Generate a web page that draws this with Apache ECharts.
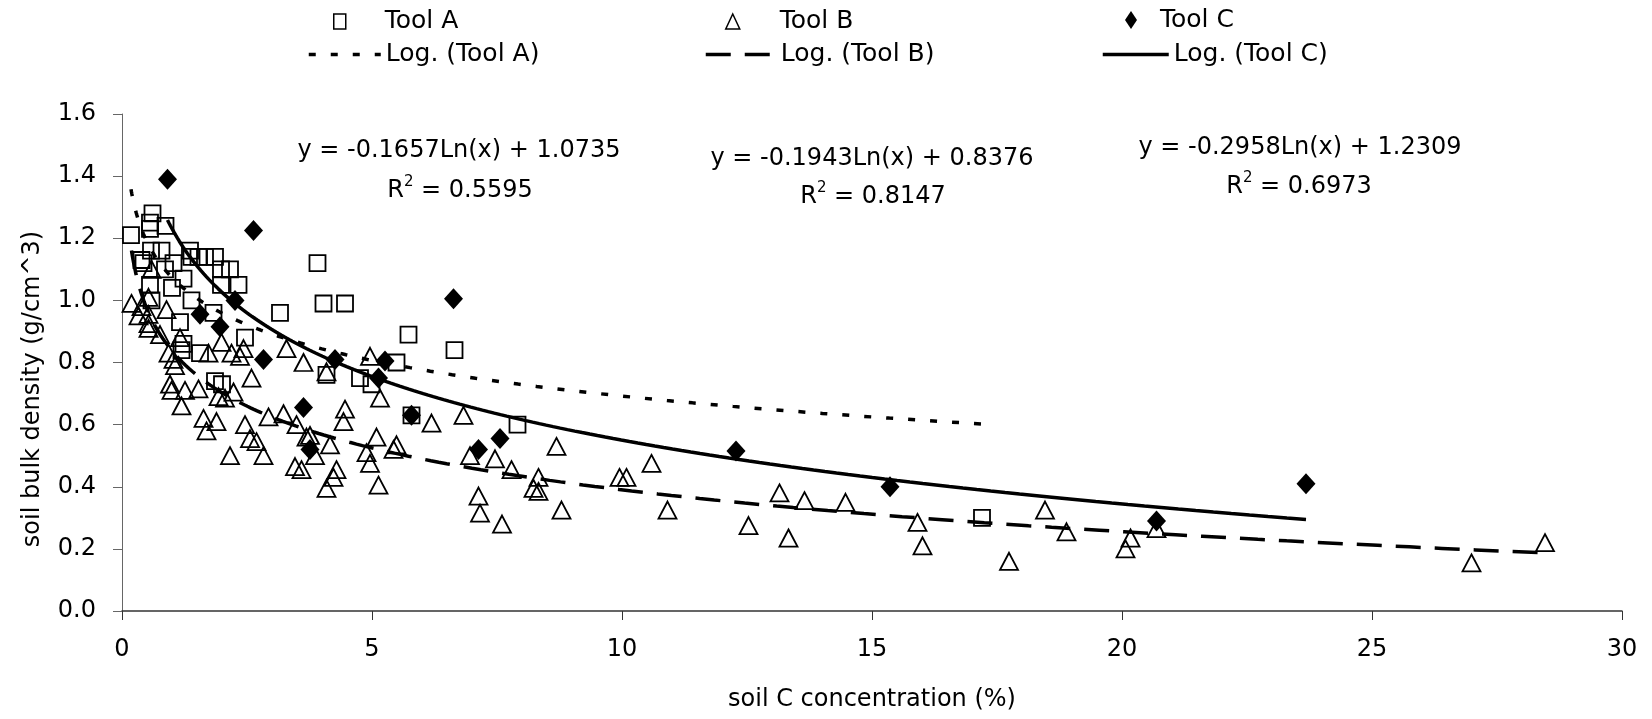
<!DOCTYPE html>
<html><head><meta charset="utf-8">
<script src="https://cdn.jsdelivr.net/npm/echarts@6/dist/echarts.min.js"></script>
<style>html,body{margin:0;padding:0;background:#fff}#c{width:1652px;height:719px}</style>
</head><body><div id="c"></div>
<script>
// ---------- data ----------
const seriesNames = ['Tool A', 'Tool B', 'Tool C'];
const trendNames = ['Log. (Tool A)', 'Log. (Tool B)', 'Log. (Tool C)'];

// Tool A: [soil C %, bulk density]
const toolA = [[0.18,1.21],[0.61,1.28],[0.56,1.25],[0.56,1.23],[0.87,1.24],[0.39,1.13],[0.58,1.16],[0.79,1.16],[0.43,1.12],[0.86,1.10],[1.03,1.12],[1.36,1.16],[1.39,1.14],[1.53,1.14],[1.66,1.14],[1.86,1.14],[1.98,1.10],[2.16,1.10],[0.56,1.05],[1.00,1.04],[1.23,1.07],[1.98,1.05],[2.33,1.05],[0.59,1.00],[1.39,1.00],[1.83,0.96],[3.16,0.96],[1.16,0.93],[1.19,0.84],[1.23,0.86],[1.56,0.83],[2.46,0.88],[1.86,0.74],[2.00,0.73],[3.91,1.12],[4.03,0.99],[4.46,0.99],[5.73,0.89],[6.65,0.84],[5.49,0.80],[4.09,0.76],[4.76,0.75],[4.99,0.73],[5.79,0.63],[7.91,0.60],[17.2,0.30]];

// Tool B
const toolB = [[0.19,0.99],[0.59,1.10],[0.53,1.01],[0.39,0.98],[0.89,0.97],[0.53,0.955],[0.33,0.95],[0.53,0.925],[0.53,0.91],[0.76,0.89],[1.16,0.88],[0.93,0.83],[1.03,0.81],[1.06,0.79],[1.73,0.83],[2.19,0.83],[2.43,0.845],[2.36,0.82],[1.99,0.865],[3.29,0.845],[3.63,0.80],[2.59,0.75],[0.96,0.73],[0.99,0.71],[1.26,0.71],[1.53,0.715],[1.19,0.66],[1.93,0.69],[2.06,0.685],[2.23,0.705],[1.63,0.62],[1.89,0.61],[1.69,0.58],[2.46,0.60],[2.56,0.555],[2.69,0.545],[2.16,0.50],[2.83,0.50],[2.93,0.625],[3.23,0.635],[3.49,0.60],[3.46,0.465],[3.59,0.455],[3.69,0.56],[4.46,0.65],[4.43,0.61],[3.76,0.565],[4.16,0.535],[3.86,0.50],[5.09,0.56],[4.89,0.51],[5.49,0.535],[5.43,0.52],[4.96,0.475],[4.29,0.455],[4.23,0.43],[4.09,0.395],[5.13,0.405],[4.09,0.77],[4.96,0.82],[5.16,0.685],[6.19,0.605],[6.83,0.63],[6.96,0.50],[7.46,0.49],[7.79,0.455],[8.33,0.43],[8.23,0.395],[8.33,0.385],[8.69,0.53],[7.13,0.37],[7.16,0.315],[8.79,0.325],[7.60,0.28],[9.95,0.43],[10.09,0.43],[10.59,0.475],[10.91,0.325],[12.53,0.275],[13.15,0.38],[13.33,0.235],[13.65,0.355],[14.47,0.35],[15.91,0.285],[16.01,0.21],[17.74,0.16],[18.46,0.325],[18.89,0.255],[20.07,0.20],[20.17,0.235],[20.69,0.265],[26.99,0.155],[28.46,0.22]];

// Tool C
const toolC = [[0.91,1.39],[2.63,1.225],[6.63,1.005],[1.56,0.955],[2.26,1.00],[1.96,0.915],[2.83,0.81],[4.26,0.81],[5.26,0.805],[5.13,0.75],[3.63,0.655],[5.79,0.63],[3.76,0.52],[7.13,0.52],[7.56,0.555],[12.28,0.515],[15.36,0.40],[20.69,0.29],[23.68,0.41]];

// logarithmic trendlines y = slope*Ln(x) + intercept (as printed on the chart)
const trendSlope = [-0.1657, -0.1943, -0.2958];
const trendIntercept = [1.0735, 0.8376, 1.2309];
const trendR2 = ['0.5595', '0.8147', '0.6973'];

const xAxisRange = [0, 30, 5];
const yAxisRange = [0, 1.6, 0.2];
const xTitle = 'soil C concentration (%)';
const yTitle = 'soil bulk density (g/cm^3)';

// ---------- chart ----------
const F = 'DejaVu Sans';
const groups = [toolA, toolB, toolC];

function trendCurve(points, a, b) {
  const xs = points.map(p => p[0]);
  const lo = Math.min(...xs), hi = Math.max(...xs);
  const out = [];
  const n = 200;
  for (let i = 0; i <= n; i++) {
    const x = lo * Math.pow(hi / lo, i / n);
    out.push([x, a * Math.log(x) + b]);
  }
  return out;
}

const markerStyles = [
  { symbol: 'rect', symbolSize: 16, itemStyle: { color: 'rgba(255,255,255,0)', borderColor: '#000', borderWidth: 1.8, opacity: 1 } },
  { symbol: 'triangle', symbolSize: [18, 17], itemStyle: { color: 'rgba(255,255,255,0)', borderColor: '#000', borderWidth: 1.8, opacity: 1 } },
  { symbol: 'diamond', symbolSize: [19, 21], itemStyle: { color: '#000', borderWidth: 0, opacity: 1 } }
];
const lineTypes = [[7, 15], [25, 14], 'solid'];

const series = [];
groups.forEach((g, i) => {
  series.push(Object.assign({
    name: seriesNames[i], type: 'scatter', data: g, z: 2, silent: true
  }, markerStyles[i]));
});
groups.forEach((g, i) => {
  series.push({
    name: trendNames[i], type: 'line', symbol: 'none', showSymbol: false, silent: true, z: 4,
    data: trendCurve(g, trendSlope[i], trendIntercept[i]),
    itemStyle: { color: '#000', opacity: 0 },
    lineStyle: { color: '#000', width: 3.5, type: lineTypes[i], cap: 'butt', opacity: 1 }
  });
});

function legend(name, left, top, w, h, extra) {
  return Object.assign({
    data: [name], left: left, top: top, itemWidth: w, itemHeight: h, padding: 0,
    selectedMode: false, orient: 'horizontal',
    textStyle: { fontFamily: F, fontSize: 25, color: '#000' }
  }, extra || {});
}
function markerText(padLeft) {
  return { fontFamily: F, fontSize: 25, color: '#000', padding: [0, 0, 0, padLeft] };
}
const hideSym = { itemStyle: { color: 'rgba(0,0,0,0)', borderWidth: 0, opacity: 0 }, lineStyle: { width: 3.5, color: '#000', opacity: 1 } };
const legends = [
  legend(seriesNames[0], 333, 9, 12, 15, { itemStyle: { borderWidth: 1.5, opacity: 1 }, textStyle: markerText(34) }),
  legend(seriesNames[1], 725, 9, 14, 15, { itemStyle: { borderWidth: 1.5, opacity: 1 }, textStyle: markerText(35) }),
  legend(seriesNames[2], 1125, 7.5, 12, 18, { itemStyle: { opacity: 1 }, textStyle: markerText(18) }),
  legend(trendNames[0], 307, 42, 72, 14, hideSym),
  legend(trendNames[1], 704, 42, 70, 14, hideSym),
  legend(trendNames[2], 1101, 42, 66, 14, hideSym)
];

const eqPos = [[459, 151], [872, 159], [1300, 148]];
const r2Pos = [[460, 191], [873, 197], [1299, 187]];
const graphics = [];
for (let i = 0; i < 3; i++) {
  graphics.push({
    type: 'text', x: eqPos[i][0], y: eqPos[i][1], silent: true,
    style: { text: 'y = ' + trendSlope[i].toFixed(4) + 'Ln(x) + ' + trendIntercept[i].toFixed(4),
      fontFamily: F, fontSize: 24, fill: '#000', align: 'center', verticalAlign: 'middle' }
  });
  graphics.push({
    type: 'text', x: r2Pos[i][0], y: r2Pos[i][1], silent: true,
    style: { text: 'R{sup|2} = ' + trendR2[i], fontFamily: F, fontSize: 24, lineHeight: 32, fill: '#000',
      align: 'center', verticalAlign: 'middle',
      rich: { sup: { fontFamily: F, fontSize: 15, lineHeight: 16, verticalAlign: 'top', fill: '#000' } } }
  });
}
graphics.push({
  type: 'text', x: 33, y: 389, rotation: Math.PI / 2, silent: true,
  style: { text: yTitle, fontFamily: F, fontSize: 24, fill: '#000', align: 'center', verticalAlign: 'middle' }
});

const chart = echarts.init(document.getElementById('c'), null, { renderer: 'canvas' });
chart.setOption({
  animation: false,
  backgroundColor: '#fff',
  grid: { left: 122, right: 30, top: 114, bottom: 108, containLabel: false, outerBoundsMode: 'none' },
  legend: legends,
  xAxis: {
    type: 'value', min: xAxisRange[0], max: xAxisRange[1], interval: xAxisRange[2],
    name: xTitle, nameLocation: 'middle', nameGap: 77,
    nameTextStyle: { fontFamily: F, fontSize: 24, color: '#000' },
    axisLine: { show: true, onZero: false, lineStyle: { color: '#333', width: 1.5 } },
    axisTick: { show: true, length: 9, lineStyle: { color: '#333', width: 1 } },
    axisLabel: { fontFamily: F, fontSize: 24, color: '#000', margin: 27 },
    splitLine: { show: false }
  },
  yAxis: {
    type: 'value', min: yAxisRange[0], max: yAxisRange[1], interval: yAxisRange[2],
    axisLine: { show: true, onZero: false, lineStyle: { color: '#666', width: 1 } },
    axisTick: { show: true, length: 9, lineStyle: { color: '#666', width: 1 } },
    axisLabel: { fontFamily: F, fontSize: 24, color: '#000', margin: 26, formatter: v => v.toFixed(1) },
    splitLine: { show: false }
  },
  graphic: graphics,
  series: series
});
</script>
</body></html>
